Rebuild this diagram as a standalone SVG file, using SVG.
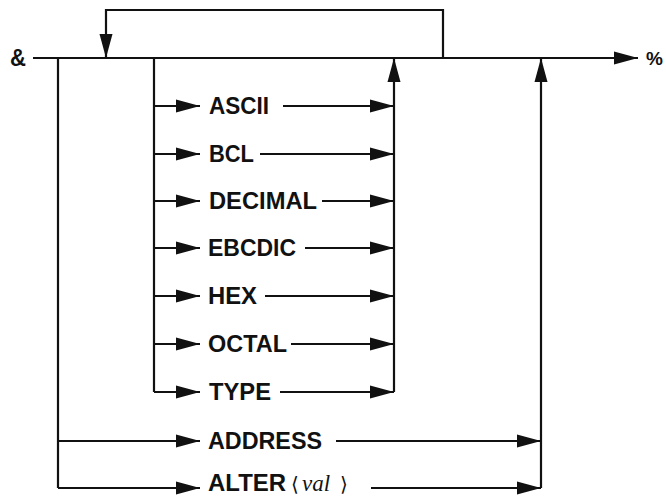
<svg xmlns="http://www.w3.org/2000/svg" width="666" height="496" viewBox="0 0 666 496">
<style>
.ln{fill:none;stroke:#111;stroke-width:2.2;stroke-linejoin:miter}
.ar{marker-end:url(#ah)}
.t{font-family:"Liberation Sans",Arial,sans-serif;font-weight:bold;font-size:24px;fill:#111}
.v{font-family:"Liberation Serif","Times New Roman",serif;font-style:italic;font-size:23px;fill:#111}
.b{font-family:"DejaVu Sans","Liberation Sans",sans-serif;font-size:20px;fill:#111}
</style>
<defs>
<marker id="ah" markerUnits="userSpaceOnUse" markerWidth="24" markerHeight="14" refX="24" refY="7" orient="auto" overflow="visible">
<path d="M0,0.5 L24,7 L0,13.5 z" fill="#111"/>
</marker>
</defs>
<rect width="666" height="496" fill="#fff"/>
<g id="connectors">
<path class="ln ar" d="M33,58 H638"/>
<path class="ln ar" d="M443,58 V10 H106 V58"/>
<path class="ln" d="M58,58 V488"/>
<path class="ln" d="M154,58 V392"/>
<path class="ln ar" d="M394,392 V58"/>
<path class="ln ar" d="M541,488 V58"/>
<path class="ln ar" d="M154,106 H200"/>
<path class="ln ar" d="M154,154 H200"/>
<path class="ln ar" d="M154,201 H200"/>
<path class="ln ar" d="M154,248 H200"/>
<path class="ln ar" d="M154,296 H200"/>
<path class="ln ar" d="M154,344 H200"/>
<path class="ln ar" d="M154,392 H200"/>
<path class="ln ar" d="M58,441 H200"/>
<path class="ln ar" d="M58,488 H200"/>
<path class="ln ar" d="M283,106 H394"/>
<path class="ln ar" d="M260,154 H394"/>
<path class="ln ar" d="M322,201 H394"/>
<path class="ln ar" d="M305,248 H394"/>
<path class="ln ar" d="M265,296 H394"/>
<path class="ln ar" d="M291,344 H394"/>
<path class="ln ar" d="M280,392 H394"/>
<path class="ln ar" d="M336,441 H541"/>
<path class="ln ar" d="M371,488 H541"/>
</g>
<g id="start"><text class="t" x="10" y="66" textLength="16" lengthAdjust="spacingAndGlyphs">&amp;</text></g>
<g id="end"><text class="t" x="646" y="65" style="font-size:19px">%</text></g>
<g id="ascii"><text class="t" x="209" y="114" textLength="60" lengthAdjust="spacingAndGlyphs">ASCII</text></g>
<g id="bcl"><text class="t" x="209" y="162" textLength="45" lengthAdjust="spacingAndGlyphs">BCL</text></g>
<g id="decimal"><text class="t" x="209" y="209" textLength="108" lengthAdjust="spacingAndGlyphs">DECIMAL</text></g>
<g id="ebcdic"><text class="t" x="208" y="256" textLength="88" lengthAdjust="spacingAndGlyphs">EBCDIC</text></g>
<g id="hex"><text class="t" x="208" y="304" textLength="49" lengthAdjust="spacingAndGlyphs">HEX</text></g>
<g id="octal"><text class="t" x="208" y="352" textLength="79" lengthAdjust="spacingAndGlyphs">OCTAL</text></g>
<g id="type"><text class="t" x="209" y="400" textLength="62" lengthAdjust="spacingAndGlyphs">TYPE</text></g>
<g id="address"><text class="t" x="208" y="449" textLength="114" lengthAdjust="spacingAndGlyphs">ADDRESS</text></g>
<g id="alter"><text class="t" x="208" y="491" textLength="78" lengthAdjust="spacingAndGlyphs">ALTER</text><text class="b" x="291" y="491">⟨</text><text class="v" x="302" y="491">val</text><text class="b" x="340" y="491">⟩</text></g>
</svg>
